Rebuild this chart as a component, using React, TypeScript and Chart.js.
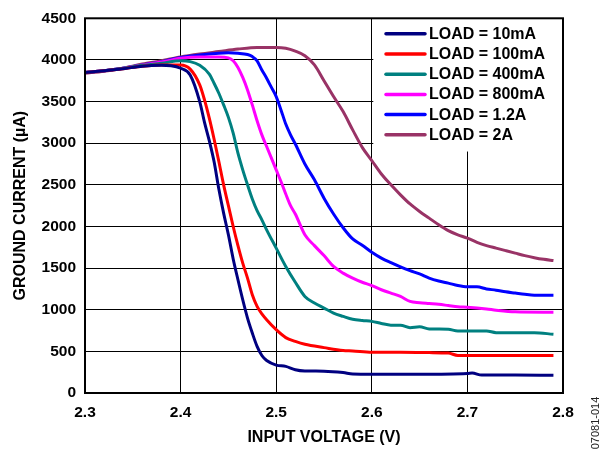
import React, { useEffect, useRef } from "react";
import { Chart, registerables } from "chart.js";

Chart.register(...registerables);

// Input voltage (V) / ground current (µA) per load
const v10 = [2.30, 2.32, 2.34, 2.36, 2.38, 2.39, 2.40, 2.41, 2.42, 2.425, 2.43, 2.435, 2.44, 2.445, 2.45, 2.455, 2.46, 2.465, 2.47, 2.475, 2.48, 2.485, 2.49, 2.50, 2.51, 2.52, 2.53, 2.55, 2.57, 2.58, 2.60, 2.65, 2.70, 2.705, 2.715, 2.75, 2.79];
const i10 = [3850, 3870, 3895, 3925, 3935, 3930, 3900, 3820, 3500, 3250, 3030, 2780, 2450, 2160, 1900, 1610, 1360, 1120, 900, 720, 560, 450, 390, 335, 320, 280, 265, 262, 245, 228, 225, 225, 235, 240, 215, 215, 212];

const v100 = [2.30, 2.32, 2.34, 2.36, 2.38, 2.40, 2.41, 2.42, 2.425, 2.43, 2.435, 2.44, 2.445, 2.45, 2.455, 2.46, 2.465, 2.47, 2.475, 2.48, 2.485, 2.49, 2.50, 2.51, 2.52, 2.53, 2.55, 2.57, 2.58, 2.60, 2.63, 2.66, 2.68, 2.69, 2.79];
const i100 = [3850, 3870, 3895, 3925, 3940, 3940, 3890, 3700, 3520, 3300, 3050, 2780, 2500, 2250, 2000, 1770, 1560, 1380, 1180, 1040, 950, 880, 760, 665, 620, 585, 545, 510, 505, 490, 490, 485, 480, 450, 450];

const v400 = [2.30, 2.32, 2.34, 2.36, 2.38, 2.40, 2.41, 2.42, 2.43, 2.435, 2.44, 2.445, 2.45, 2.455, 2.46, 2.465, 2.47, 2.475, 2.48, 2.485, 2.49, 2.50, 2.51, 2.52, 2.53, 2.54, 2.55, 2.56, 2.57, 2.58, 2.59, 2.60, 2.61, 2.62, 2.63, 2.64, 2.65, 2.66, 2.68, 2.69, 2.72, 2.73, 2.77, 2.79];
const i400 = [3850, 3870, 3900, 3935, 3960, 3990, 3980, 3935, 3830, 3720, 3600, 3460, 3310, 3120, 2880, 2680, 2500, 2330, 2190, 2080, 1960, 1740, 1520, 1330, 1160, 1080, 1020, 960, 920, 885, 870, 860, 835, 815, 815, 785, 795, 770, 765, 745, 745, 725, 725, 705];

const v800 = [2.30, 2.32, 2.34, 2.36, 2.38, 2.40, 2.42, 2.44, 2.45, 2.455, 2.46, 2.465, 2.47, 2.475, 2.48, 2.485, 2.49, 2.495, 2.50, 2.505, 2.51, 2.515, 2.52, 2.53, 2.54, 2.55, 2.56, 2.57, 2.58, 2.59, 2.60, 2.61, 2.62, 2.63, 2.64, 2.65, 2.66, 2.67, 2.68, 2.69, 2.70, 2.72, 2.73, 2.75, 2.79];
const i800 = [3850, 3870, 3900, 3940, 3975, 4020, 4035, 4035, 4025, 3990, 3910, 3790, 3640, 3460, 3270, 3100, 2960, 2820, 2680, 2540, 2390, 2250, 2150, 1900, 1770, 1650, 1520, 1440, 1380, 1330, 1290, 1240, 1200, 1160, 1100, 1085, 1075, 1065, 1050, 1035, 1030, 1010, 995, 975, 970];

const v1200 = [2.30, 2.32, 2.34, 2.36, 2.38, 2.40, 2.42, 2.44, 2.45, 2.46, 2.47, 2.475, 2.48, 2.485, 2.49, 2.495, 2.50, 2.505, 2.51, 2.515, 2.52, 2.53, 2.54, 2.55, 2.56, 2.57, 2.58, 2.59, 2.60, 2.61, 2.62, 2.63, 2.64, 2.65, 2.66, 2.67, 2.68, 2.69, 2.70, 2.71, 2.72, 2.73, 2.74, 2.75, 2.76, 2.77, 2.79];
const i1200 = [3850, 3870, 3900, 3940, 3980, 4030, 4060, 4080, 4085, 4080, 4065, 4040, 3990, 3880, 3780, 3670, 3560, 3400, 3230, 3100, 2990, 2750, 2560, 2340, 2150, 1985, 1850, 1775, 1690, 1620, 1565, 1515, 1470, 1430, 1380, 1345, 1320, 1290, 1275, 1275, 1250, 1235, 1215, 1200, 1185, 1175, 1175];

const v2000 = [2.30, 2.32, 2.34, 2.36, 2.38, 2.40, 2.42, 2.44, 2.46, 2.48, 2.50, 2.51, 2.52, 2.53, 2.54, 2.55, 2.56, 2.57, 2.58, 2.59, 2.60, 2.61, 2.62, 2.63, 2.64, 2.65, 2.66, 2.67, 2.68, 2.69, 2.70, 2.71, 2.72, 2.73, 2.74, 2.75, 2.76, 2.77, 2.78, 2.79];
const i2000 = [3840, 3865, 3900, 3950, 3990, 4035, 4070, 4100, 4130, 4150, 4150, 4140, 4105, 4050, 3940, 3750, 3560, 3380, 3160, 2950, 2790, 2630, 2500, 2380, 2270, 2180, 2100, 2020, 1950, 1900, 1860, 1810, 1770, 1740, 1710, 1680, 1650, 1625, 1605, 1590];

const seriesLabels = ["LOAD = 10mA", "LOAD = 100mA", "LOAD = 400mA", "LOAD = 800mA", "LOAD = 1.2A", "LOAD = 2A"];
const seriesColors = ["#000080", "#FF0000", "#008080", "#FF00FF", "#0000FF", "#993366"];
const seriesX = [v10, v100, v400, v800, v1200, v2000];
const seriesY = [i10, i100, i400, i800, i1200, i2000];

const FONT = '"Liberation Sans", Arial, sans-serif';

const overlayPlugin = {
  id: "overlay",
  beforeDatasetsDraw(chart: any) {
    const { ctx, chartArea } = chart;
    const xs = chart.scales.x;
    const ys = chart.scales.y;
    ctx.save();
    ctx.fillStyle = "#ffffff";
    const left = xs.getPixelForValue(2.6) + 1.5;
    const bottom = ys.getPixelForValue(2900);
    ctx.fillRect(left, chartArea.top, chartArea.right - left, bottom - chartArea.top);
    ctx.restore();
  },
  afterDatasetsDraw(chart: any) {
    const { ctx, chartArea } = chart;
    ctx.save();
    // frame
    ctx.strokeStyle = "#000";
    ctx.lineWidth = 2;
    ctx.strokeRect(chartArea.left, chartArea.top, chartArea.right - chartArea.left, chartArea.bottom - chartArea.top);
    // legend
    const lx = chartArea.left + 301;
    const ly = chartArea.top + 15.5;
    ctx.font = `bold 16px ${FONT}`;
    ctx.textBaseline = "middle";
    ctx.textAlign = "left";
    chart.data.datasets.forEach((ds: any, k: number) => {
      const y = ly + k * 20.2;
      ctx.strokeStyle = ds.borderColor;
      ctx.lineWidth = 3.5;
      ctx.lineCap = "round";
      ctx.beginPath();
      ctx.moveTo(lx, y);
      ctx.lineTo(lx + 39, y);
      ctx.stroke();
      ctx.fillStyle = "#000";
      ctx.fillText(ds.label, lx + 43, y + 0.5);
    });
    // axis titles
    ctx.font = `bold 16px ${FONT}`;
    ctx.textAlign = "center";
    ctx.fillStyle = "#000";
    ctx.fillText("INPUT VOLTAGE (V)", (chartArea.left + chartArea.right) / 2, 438);
    ctx.save();
    ctx.translate(21, (chartArea.top + chartArea.bottom) / 2);
    ctx.rotate(-Math.PI / 2);
    ctx.fillText("GROUND CURRENT (µA)", 0, 0);
    ctx.restore();
    // figure code
    ctx.save();
    ctx.font = `11px ${FONT}`;
    ctx.fillStyle = "#222";
    ctx.translate(596, 423);
    ctx.rotate(-Math.PI / 2);
    ctx.fillText("07081-014", 0, 0);
    ctx.restore();
    ctx.restore();
  },
};

export default function App() {
  const ref = useRef<HTMLCanvasElement | null>(null);
  useEffect(() => {
    document.body.style.margin = "0";
    const canvas = ref.current;
    if (!canvas) return;
    const datasets = seriesLabels.map((label, k) => ({
      label,
      data: seriesX[k].map((x, j) => ({ x, y: seriesY[k][j] })),
      borderColor: seriesColors[k],
      backgroundColor: seriesColors[k],
      borderWidth: 3,
      pointRadius: 0,
      fill: false,
      cubicInterpolationMode: "monotone" as const,
    }));
    const tickFont = { family: FONT, weight: "bold" as const, size: 15.5 };
    const chart = new Chart(canvas, {
      type: "line",
      data: { datasets },
      options: {
        responsive: false,
        animation: false,
        layout: { padding: { top: 12, right: 42, left: 0, bottom: 0 } },
        plugins: { legend: { display: false }, tooltip: { enabled: false } },
        scales: {
          x: {
            type: "linear",
            min: 2.3,
            max: 2.8,
            ticks: {
              stepSize: 0.1,
              callback: (v: any) => Number(v).toFixed(1),
              font: tickFont,
              color: "#000",
              padding: 10,
              maxRotation: 0,
              autoSkip: false,
            },
            grid: { color: "#000", lineWidth: 1, drawTicks: false },
            border: { display: false },
            afterFit: (s: any) => {
              s.height = 57;
            },
          },
          y: {
            min: 0,
            max: 4500,
            ticks: {
              stepSize: 500,
              callback: (v: any) => String(Math.round(Number(v))),
              font: tickFont,
              color: "#000",
              padding: 9,
            },
            grid: { color: "#000", lineWidth: 1, drawTicks: false },
            border: { display: false },
            afterFit: (s: any) => {
              s.width = 85;
            },
          },
        },
      },
      plugins: [overlayPlugin],
    });
    return () => chart.destroy();
  }, []);
  return (
    <div style={{ width: 605, height: 450, background: "#fff" }}>
      <canvas ref={ref} width={605} height={450} style={{ display: "block" }} />
    </div>
  );
}
